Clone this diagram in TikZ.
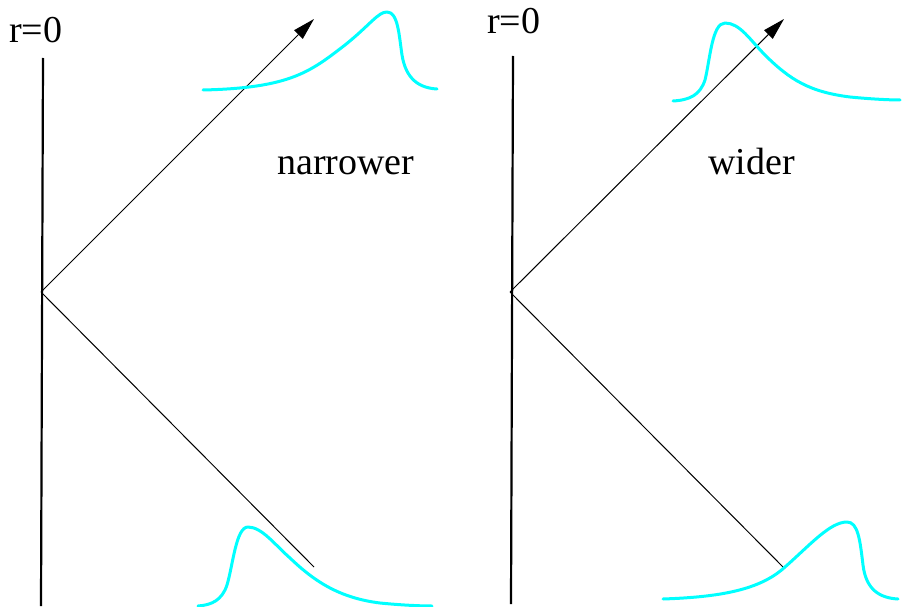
\documentclass[tikz,border=0pt]{standalone}
\usepackage{fontspec}
\setmainfont{Liberation Serif}
\usetikzlibrary{arrows.meta}
\definecolor{pulsecyan}{RGB}{0,255,255}
\begin{document}
\begin{tikzpicture}[x=1pt,y=-1pt,
  axisline/.style={line width=2.2pt,black},
  ray/.style={line width=1pt,black},
  arrowray/.style={ray,-{Triangle[length=22pt,width=12pt]}},
  pulse/.style={line width=3pt,pulsecyan,line cap=round,line join=round},
  lbl/.style={inner sep=0pt,anchor=base west,font=\fontsize{38}{40}\selectfont}]
\useasboundingbox (0,0) rectangle (902,607);
% left panel
\coordinate (ltop) at (43,58);
\coordinate (lbot) at (41,606);
\coordinate (lv) at (41,292);
\coordinate (ltip) at (314,19);
\coordinate (lend) at (314,567);
\draw[axisline] (ltop) -- (lbot);
\draw[arrowray] (lv) -- (ltip);
\draw[ray] (lv) -- (lend);
\node[lbl] (lr) at (9,43) {r=0};
\node[lbl] (nar) at (277,175) {narrower};
% right panel
\coordinate (rtop) at (513,56);
\coordinate (rbot) at (511,604);
\coordinate (rv) at (510,292);
\coordinate (rtip) at (784,19);
\coordinate (rend) at (783,567);
\draw[axisline] (rtop) -- (rbot);
\draw[arrowray] (rv) -- (rtip);
\draw[ray] (rv) -- (rend);
\node[lbl] (rr) at (487,34) {r=0};
\node[lbl] (wid) at (708,175) {wider};
% pulses
\draw[pulse] (203,90) .. controls (290,88) and (310,72) .. (345,45)
  .. controls (370,25) and (378,12) .. (387,12)
  .. controls (398,12) and (399,35) .. (402,55)
  .. controls (406,80) and (420,88) .. (437,89);
\draw[pulse] (673,101) .. controls (690,100) and (700,95) .. (705,80)
  .. controls (710,60) and (712,23) .. (725,23)
  .. controls (740,23) and (750,40) .. (765,55)
  .. controls (790,80) and (810,92) .. (850,97)
  .. controls (870,99) and (890,100) .. (900,100);
\draw[pulse] (198,606) .. controls (212,605) and (222,600) .. (227,585)
  .. controls (233,565) and (236,527) .. (248,527)
  .. controls (262,527) and (275,545) .. (290,558)
  .. controls (315,582) and (340,598) .. (380,603)
  .. controls (400,605) and (420,606) .. (432,606);
\draw[pulse] (663,599) .. controls (720,597) and (760,590) .. (785,567)
  .. controls (810,545) and (830,522) .. (847,522)
  .. controls (858,522) and (860,540) .. (863,565)
  .. controls (866,590) and (880,598) .. (898,599);
\end{tikzpicture}
\end{document}
